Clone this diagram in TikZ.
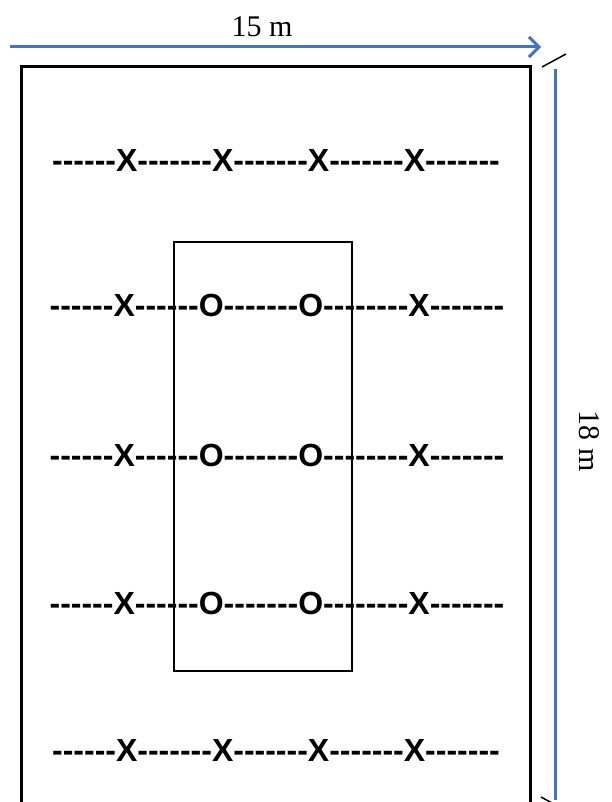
\documentclass[tikz,border=0pt]{standalone}
\usepackage{fontspec}
\setmainfont{Liberation Serif}
\newfontfamily\rowfont{Liberation Sans}
\usetikzlibrary{arrows.meta}
\definecolor{dimblue}{HTML}{4472C4}
\begin{document}
\begin{tikzpicture}[x=1pt,y=-1pt,
  rowtext/.style={inner sep=0pt,font=\rowfont\bfseries\fontsize{32}{34}\selectfont},
  dimline/.style={draw=dimblue,line width=3pt},
  tick/.style={draw=black,line width=1.5pt},
  dimlabel/.style={inner sep=0pt,font=\fontsize{30}{32}\selectfont}]
\useasboundingbox (0,0) rectangle (611,802);
\begin{scope}
\clip (0,0) rectangle (611,802);
% outer field
\draw[line width=3pt] (21,830) -- (21,67) -- (530,67) -- (530,830);
% inner plot
\draw[line width=1.5pt] (174,242) rectangle (352,671);
% dimensions
\coordinate (ha) at (10,47);
\coordinate (hb) at (541,47);
\draw[dimline,-{Straight Barb[length=10pt,width=20pt,line width=3pt]}] (ha) -- (hb);
\node[dimlabel] (lw) at (262,27) {15 m};
\coordinate (va) at (555,69);
\coordinate (vb) at (555,800);
\draw[dimline] (va) -- (vb);
\node[dimlabel,rotate=-90] (lh) at (589,441) {18 m};
\coordinate (t1a) at (542,67);
\coordinate (t1b) at (566,54);
\draw[tick] (t1a) -- (t1b);
\coordinate (t2a) at (541,797);
\coordinate (t2b) at (565,810);
\draw[tick] (t2a) -- (t2b);
% rows
\node[rowtext] (r1) at (276,160) {------X-------X-------X-------X-------};
\node[rowtext] (r2) at (277,305) {------X------O-------O--------X-------};
\node[rowtext] (r3) at (277,455) {------X------O-------O--------X-------};
\node[rowtext] (r4) at (277,603) {------X------O-------O--------X-------};
\node[rowtext] (r5) at (276,750) {------X-------X-------X-------X-------};
\end{scope}
\end{tikzpicture}
\end{document}
